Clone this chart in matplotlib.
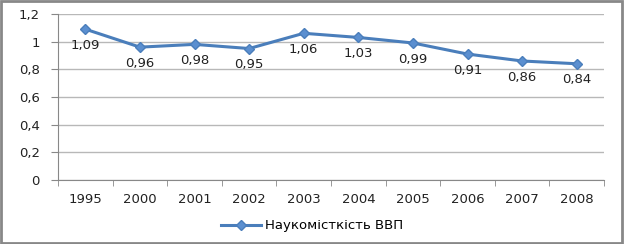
import matplotlib
matplotlib.use("Agg")
import matplotlib.pyplot as plt
from matplotlib.ticker import FuncFormatter, FixedLocator, MultipleLocator
from matplotlib.patches import Rectangle

years = ["1995", "2000", "2001", "2002", "2003", "2004", "2005", "2006", "2007", "2008"]
values = [1.09, 0.96, 0.98, 0.95, 1.06, 1.03, 0.99, 0.91, 0.86, 0.84]
series_name = "Наукомісткість ВВП"

plt.rcParams['font.family'] = ['DejaVu Sans']
fig = plt.figure(figsize=(6.24, 2.44), dpi=100)
ax = fig.add_axes([0.093, 0.262, 0.875, 0.681])

x = list(range(len(years)))
line_color = "#4a7ebb"
ax.plot(x, values, color=line_color, lw=2.2, marker="D", markersize=5.5,
        markerfacecolor="#5b8fd0", markeredgecolor=line_color, label=series_name, zorder=3)

for xi, v in zip(x, values):
    ax.annotate(f"{v:.2f}".replace(".", ","), (xi, v), xytext=(0, -7),
                textcoords="offset points", ha="center", va="top", fontsize=9.5, color="#222222")

ax.set_xlim(-0.5, len(years) - 0.5)
ax.set_ylim(0, 1.2)
ax.yaxis.set_major_locator(MultipleLocator(0.2))
ax.yaxis.set_major_formatter(FuncFormatter(lambda v, p: f"{v:.1f}".rstrip("0").rstrip(".").replace(".", ",")))
ax.set_xticks(x)
ax.set_xticklabels(years)
ax.xaxis.set_minor_locator(FixedLocator([i + 0.5 for i in range(-1, len(years))]))

ax.grid(axis="y", color="#b8b8b8", lw=1)
ax.set_axisbelow(True)
for s in ["top", "right"]:
    ax.spines[s].set_visible(False)
for s in ["left", "bottom"]:
    ax.spines[s].set_color("#888888")
ax.tick_params(axis="y", length=5, color="#888888", labelsize=9.5, pad=8, labelcolor="#222222")
ax.tick_params(axis="x", which="major", length=0, labelsize=9.5, pad=9, labelcolor="#222222")
ax.tick_params(axis="x", which="minor", length=4, color="#888888")

fig.legend(loc="center", bbox_to_anchor=(0.5, 0.075), frameon=False, fontsize=9.5,
           handlelength=3, handletextpad=0.3)

fig.patches.append(Rectangle((0.002, 0.004), 0.994, 0.99, transform=fig.transFigure,
                             fill=False, edgecolor="#888888", lw=2))

fig.savefig("out.png", dpi=100)
